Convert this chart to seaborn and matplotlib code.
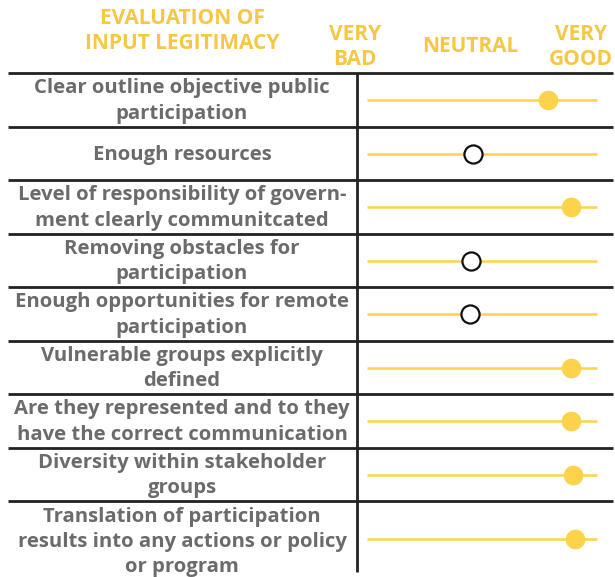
import matplotlib
matplotlib.use('Agg')
import matplotlib.pyplot as plt
import seaborn as sns
import pandas as pd
import numpy as np

# chart data
criteria = [
    'Clear outline objective public\nparticipation',
    'Enough resources',
    'Level of responsibility of govern-\nment clearly communitcated',
    'Removing obstacles for\nparticipation',
    'Enough opportunities for remote\nparticipation',
    'Vulnerable groups explicitly\ndefined',
    'Are they represented and to they\nhave the correct communication',
    'Diversity within stakeholder\ngroups',
    'Translation of participation\nresults into any actions or policy\nor program',
]
scores = [4.36, 3.05, 4.76, 3.02, 3.0, 4.76, 4.76, 4.79, 4.83]
scale_ticks = [1, 3, 5]
scale_labels = ['VERY\nBAD', 'NEUTRAL', 'VERY\nGOOD']
title = 'EVALUATION OF\nINPUT LEGITIMACY'

YELLOW = '#f6c744'
DOT = '#fdd34c'
GREY = '#6b6b6b'

sns.set_theme(style='white')
plt.rcParams['font.family'] = ['Open Sans', 'DejaVu Sans']

W, H = 615, 577
fig = plt.figure(figsize=(W / 100, H / 100), dpi=100)
ax = fig.add_axes([0, 0, 1, 1])

# pixel <-> data mapping: score 3 at x=470px, 57.5px per point
# row 0 centred at y=100px, 53.5px per row
PX, PY = 57.5, 53.5


def xd(px):
    return 3 + (px - 470) / PX


def yd(py):
    return (py - 100) / PY


n = len(criteria)
rows = np.arange(n, dtype=float)
# last label runs over three lines, its row sits a bit lower
rows[-1] += 0.2

df = pd.DataFrame({'criterion': criteria, 'score': scores, 'row': rows})
df['neutral'] = df['score'] < 3.5

# table grid
ax.hlines(np.arange(n) - 0.5, xd(8), xd(613), color='#222222', lw=2)
ax.vlines(xd(357), -0.5, yd(572), color='#222222', lw=2)

# scale lines
ax.hlines(df['row'], xd(367), xd(597), color=DOT, lw=1.8, zorder=2)

sns.scatterplot(data=df[~df['neutral']], x='score', y='row', ax=ax,
                s=200, color=DOT, edgecolor=DOT, linewidth=0, zorder=3,
                legend=False)
sns.scatterplot(data=df[df['neutral']], x='score', y='row', ax=ax,
                s=170, color='white', edgecolor='#111111', linewidth=1.6,
                zorder=3, legend=False)
ax.set_xlim(xd(0), xd(W))
ax.set_ylim(yd(H), yd(0))
ax.axis('off')

# row labels
for i, r in df.iterrows():
    yy = r['row'] + (0.06 if i == n - 1 else 0.02)
    ax.text(xd(182), yy, r['criterion'], ha='center', va='center',
            fontsize=14.6, fontweight='bold', color=GREY, linespacing=1.36)

# header
ax.text(xd(182), yd(31), title, ha='center', va='center', fontsize=15,
        fontweight='bold', color=YELLOW, linespacing=1.3)
for t, lab in zip(scale_ticks, scale_labels):
    xx = t if t != 5 else 4.93
    ax.text(xx, yd(47), lab, ha='center', va='center', fontsize=15,
            fontweight='bold', color=YELLOW, linespacing=1.3)

fig.savefig('out.png', dpi=100)
